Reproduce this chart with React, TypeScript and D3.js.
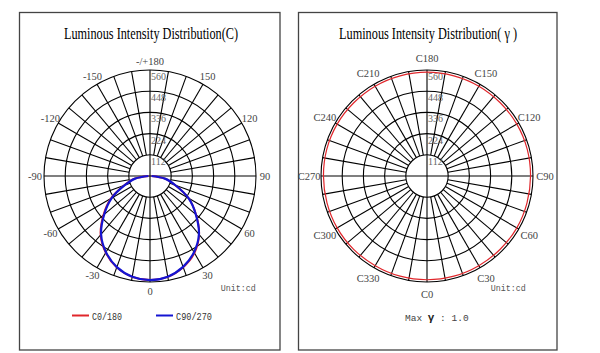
import React, { useEffect, useRef } from "react";
import * as d3 from "d3";

// ring values (cd)
const ringValues = [112, 224, 336, 448, 560];

// angle labels, every 30 deg starting at the bottom going right
const labelAngles = [0, 30, 60, 90, 120, 150, 180, 210, 240, 270, 300, 330];
const planeLabels = ["0", "30", "60", "90", "120", "150", "-/+180", "-150", "-120", "-90", "-60", "-30"];
const cLabels = ["C0", "C30", "C60", "C90", "C120", "C150", "C180", "C210", "C240", "C270", "C300", "C330"];

// left chart: gamma angle vs intensity for the two C planes
const gammaAngles = [-90, -80, -70, -60, -50, -40, -30, -20, -10, 0, 10, 20, 30, 40, 50, 60, 70, 80, 90];
const c0180 = [8, 82, 146, 240, 322, 406, 468, 514, 541, 549, 541, 513, 470, 404, 318, 236, 142, 80, 8];
const c90270 = [8, 80, 142, 234, 316, 402, 465, 512, 540, 550, 540, 511, 465, 402, 316, 235, 143, 80, 8];

// right chart: C angle vs intensity at gamma = 1.0
const cAngles = [0, 15, 30, 45, 60, 75, 90, 105, 120, 135, 150, 165, 180, 195, 210, 225, 240, 255, 270, 285, 300, 315, 330, 345];
const maxGammaValues = [548, 548, 547, 547, 548, 547, 547, 548, 548, 547, 548, 548, 549, 548, 548, 547, 548, 548, 547, 547, 548, 548, 547, 548];

const R = 106;
const serif = "'Liberation Serif', 'Times New Roman', serif";
const mono = "'Liberation Mono', 'DejaVu Sans Mono', monospace";

const App = () => {
  const ref = useRef<SVGSVGElement>(null);

  useEffect(() => {
    if (!ref.current) return;
    const svg = d3.select(ref.current);
    svg.selectAll("*").remove();

    const r = d3.scaleLinear().domain([0, 560]).range([0, R]);
    // angle from bottom, clockwise to the right -> d3 radial angle
    const toRad = (deg) => ((180 - deg) * Math.PI) / 180;

    const drawGrid = (g, labels, labelR) => {
      g.selectAll("circle.ring")
        .data(ringValues)
        .enter()
        .append("circle")
        .attr("r", (d) => r(d))
        .attr("fill", "none")
        .attr("stroke", "#000")
        .attr("stroke-width", 1.1);

      g.selectAll("line.spoke")
        .data(d3.range(0, 360, 10).filter((a) => a % 90 !== 0))
        .enter()
        .append("line")
        .attr("x1", (a) => r(112) * Math.sin((a * Math.PI) / 180))
        .attr("y1", (a) => r(112) * Math.cos((a * Math.PI) / 180))
        .attr("x2", (a) => R * Math.sin((a * Math.PI) / 180))
        .attr("y2", (a) => R * Math.cos((a * Math.PI) / 180))
        .attr("stroke", "#000")
        .attr("stroke-width", 1.1);

      g.append("line").attr("x1", -R).attr("x2", R).attr("stroke", "#000").attr("stroke-width", 1.1);
      g.append("line").attr("y1", -R).attr("y2", R).attr("stroke", "#000").attr("stroke-width", 1.1);

      g.selectAll("text.ring")
        .data(ringValues)
        .enter()
        .append("text")
        .attr("x", 1)
        .attr("y", (d) => -r(d) + 10)
        .attr("font-family", serif)
        .attr("font-size", 10)
        .attr("fill", "#666")
        .text((d) => d);

      g.selectAll("text.ang")
        .data(labelAngles)
        .enter()
        .append("text")
        .attr("x", (a) => labelR * Math.sin((a * Math.PI) / 180))
        .attr("y", (a) => labelR * Math.cos((a * Math.PI) / 180))
        .attr("text-anchor", "middle")
        .attr("dominant-baseline", "central")
        .attr("font-family", serif)
        .attr("font-size", 10.5)
        .attr("fill", "#444")
        .text((a, i) => labels[i]);
    };

    const frame = (x0, x1) =>
      svg
        .append("rect")
        .attr("x", x0)
        .attr("y", 12.5)
        .attr("width", x1 - x0)
        .attr("height", 337.5)
        .attr("fill", "none")
        .attr("stroke", "#444")
        .attr("stroke-width", 1.3);

    const title = (cx, txt, len) =>
      svg
        .append("text")
        .attr("x", cx)
        .attr("y", 39)
        .attr("text-anchor", "middle")
        .attr("font-family", serif)
        .attr("font-size", 16)
        .attr("fill", "#000")
        .attr("textLength", len)
        .attr("lengthAdjust", "spacingAndGlyphs")
        .text(txt);

    const unit = (x) =>
      svg
        .append("text")
        .attr("x", x)
        .attr("y", 290.5)
        .attr("font-family", mono)
        .attr("font-size", 9.5)
        .attr("fill", "#555")
        .attr("textLength", 35)
        .attr("lengthAdjust", "spacingAndGlyphs")
        .text("Unit:cd");

    // ---- left panel
    frame(19.5, 280);
    title(151, "Luminous Intensity Distribution(C)", 174);
    const gl = svg.append("g").attr("transform", "translate(150,176)");
    drawGrid(gl, planeLabels, 115);

    const radial = d3
      .lineRadial()
      .angle((d) => toRad(d[0]))
      .radius((d) => r(d[1]))
      .curve(d3.curveCatmullRom);

    gl.append("path")
      .attr("d", radial(gammaAngles.map((a, i) => [a, c0180[i]])))
      .attr("fill", "none")
      .attr("stroke", "#e0262b")
      .attr("stroke-width", 1.8);
    gl.append("path")
      .attr("d", radial(gammaAngles.map((a, i) => [a, c90270[i]])))
      .attr("fill", "none")
      .attr("stroke", "#1414d2")
      .attr("stroke-width", 2.2);

    unit(220.7);

    const legend = [
      { name: "C0/180", color: "#e0262b", x: 72, len: 30 },
      { name: "C90/270", color: "#1414d2", x: 156, len: 36 },
    ];
    legend.forEach((l) => {
      svg.append("line")
        .attr("x1", l.x)
        .attr("x2", l.x + 17)
        .attr("y1", 315.5)
        .attr("y2", 315.5)
        .attr("stroke", l.color)
        .attr("stroke-width", 2);
      svg.append("text")
        .attr("x", l.x + 20)
        .attr("y", 319.5)
        .attr("font-family", mono)
        .attr("font-size", 11)
        .attr("fill", "#333")
        .attr("textLength", l.len)
        .attr("lengthAdjust", "spacingAndGlyphs")
        .text(l.name);
    });

    // ---- right panel
    frame(298.5, 557);
    title(428, "Luminous Intensity Distribution( γ )", 178);
    const gr = svg.append("g").attr("transform", "translate(427,176)");
    drawGrid(gr, cLabels, 118);

    const closed = d3
      .lineRadial()
      .angle((d) => toRad(d[0]))
      .radius((d) => r(d[1]))
      .curve(d3.curveCatmullRomClosed);
    gr.append("path")
      .attr("d", closed(cAngles.map((a, i) => [a, maxGammaValues[i]])))
      .attr("fill", "none")
      .attr("stroke", "#e0262b")
      .attr("stroke-width", 1.2);

    unit(490.7);

    const mg = svg
      .append("text")
      .attr("x", 405)
      .attr("y", 320.5)
      .attr("font-family", mono)
      .attr("font-size", 9.5)
      .attr("fill", "#444");
    mg.append("tspan").text("Max ");
    mg.append("tspan").attr("font-weight", "bold").attr("fill", "#222").attr("font-size", 11).text("γ");
    mg.append("tspan").text(" : 1.0");
  }, []);

  return (
    <svg
      ref={ref}
      width={600}
      height={353}
      style={{ position: "absolute", left: 0, top: 0, background: "#fff" }}
    />
  );
};

export default App;
